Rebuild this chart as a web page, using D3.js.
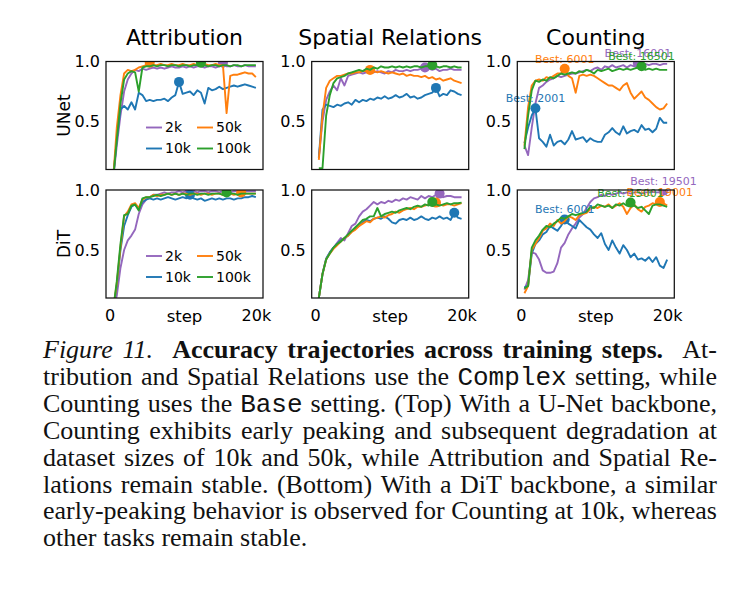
<!DOCTYPE html>
<html>
<head>
<meta charset="utf-8">
<script src="https://cdn.jsdelivr.net/npm/d3@7"></script>
<style>
  body { margin: 0; background: #fff; }
  svg { display: block; }
</style>
</head>
<body>
<div id="chart"></div>
<script>
// Evaluation steps (one checkpoint every 500 steps)
var steps = d3.range(40).map(i => 501 + 500 * i);

var seriesNames = ["2k", "10k", "50k", "100k"];
var seriesColors = ["#9467bd", "#1f77b4", "#ff7f0e", "#2ca02c"];
var taskNames = ["Attribution", "Spatial Relations", "Counting"];
var backboneNames = ["UNet", "DiT"];
var yTicks = [0.5, 1.0];
var xTicks = [0, 20000];
var xTickLabels = ["0", "20k"];

// ---- UNet ----
var attrUnet2k = [0.02,0.30,0.55,0.75,0.85,0.90,0.93,0.92,0.94,0.93, 0.94,0.95,0.94,0.95,0.94,0.95,0.96,0.95,0.95,0.96, 0.95,0.96,0.95,0.96,0.96,0.95,0.96,0.96,0.95,0.96, 0.99,0.96,0.96,0.97,0.96,0.96,0.97,0.96,0.96,0.96];
var attrUnet10k = [0.03,0.35,0.60,0.63,0.60,0.66,0.60,0.74,0.72,0.67, 0.68,0.67,0.68,0.68,0.69,0.67,0.70,0.72,0.83,0.73, 0.74,0.75,0.72,0.76,0.74,0.65,0.78,0.76,0.77,0.79, 0.77,0.78,0.79,0.80,0.79,0.80,0.81,0.80,0.79,0.78];
var attrUnet50k = [0.02,0.45,0.72,0.90,0.93,0.92,0.93,0.95,0.96,0.97, 0.99,0.97,0.97,0.98,0.97,0.97,0.98,0.97,0.97,0.98, 0.97,0.97,0.98,0.97,0.97,0.98,0.97,0.97,0.98,0.97, 0.97,0.57,0.88,0.89,0.89,0.90,0.91,0.90,0.90,0.87];
var attrUnet100k = [0.02,0.35,0.65,0.85,0.90,0.92,0.91,0.75,0.95,0.96, 0.96,0.97,0.96,0.97,0.97,0.96,0.97,0.97,0.96,0.97, 0.97,0.96,0.97,0.97,0.99,0.97,0.96,0.97,0.97,0.96, 0.97,0.97,0.96,0.97,0.97,0.96,0.97,0.97,0.97,0.97];

var spatUnet2k = [0.20,0.50,0.68,0.75,0.80,0.76,0.86,0.80,0.88,0.89, 0.90,0.91,0.90,0.91,0.92,0.91,0.92,0.91,0.90,0.92, 0.91,0.93,0.92,0.92,0.93,0.92,0.93,0.93,0.94,0.95, 0.94,0.93,0.94,0.92,0.93,0.93,0.94,0.93,0.93,0.93];
var spatUnet10k = [0.20,0.60,0.64,0.63,0.62,0.64,0.63,0.65,0.66,0.64, 0.68,0.66,0.68,0.67,0.69,0.68,0.70,0.69,0.71,0.69, 0.70,0.72,0.70,0.71,0.73,0.70,0.71,0.69,0.70,0.72, 0.73,0.74,0.78,0.71,0.73,0.72,0.76,0.75,0.73,0.72];
var spatUnet50k = [0.18,0.55,0.78,0.84,0.86,0.88,0.88,0.89,0.90,0.90, 0.91,0.91,0.92,0.92,0.93,0.92,0.91,0.92,0.91,0.90, 0.91,0.90,0.89,0.90,0.88,0.89,0.88,0.88,0.87,0.88, 0.86,0.87,0.85,0.86,0.84,0.85,0.86,0.84,0.83,0.82];
var spatUnet100k = [0.11,0.11,0.55,0.72,0.82,0.86,0.87,0.88,0.90,0.91, 0.92,0.93,0.92,0.94,0.93,0.95,0.94,0.96,0.95,0.95, 0.96,0.95,0.96,0.95,0.96,0.95,0.96,0.96,0.95,0.96, 0.96,0.97,0.96,0.95,0.96,0.96,0.95,0.96,0.95,0.95];

var countUnet2k = [0.30,0.22,0.45,0.65,0.78,0.80,0.83,0.85,0.86,0.88, 0.87,0.88,0.89,0.90,0.90,0.91,0.92,0.93,0.92,0.94, 0.95,0.93,0.96,0.95,0.97,0.95,0.96,0.97,0.95,0.97, 0.96,0.985,0.97,0.98,0.97,0.98,0.98,0.97,0.98,0.98];
var countUnet10k = [0.32,0.45,0.55,0.61,0.36,0.33,0.29,0.39,0.30,0.33, 0.34,0.31,0.35,0.42,0.35,0.36,0.37,0.33,0.36,0.34, 0.33,0.33,0.39,0.41,0.445,0.41,0.39,0.46,0.40,0.42, 0.43,0.41,0.47,0.43,0.44,0.41,0.44,0.53,0.49,0.49];
var countUnet50k = [0.30,0.62,0.80,0.84,0.85,0.84,0.87,0.86,0.88,0.90, 0.90,0.94,0.88,0.86,0.74,0.88,0.89,0.88,0.89,0.88, 0.86,0.84,0.82,0.80,0.80,0.78,0.76,0.80,0.82,0.74, 0.69,0.72,0.75,0.70,0.68,0.65,0.62,0.60,0.61,0.65];
var countUnet100k = [0.27,0.55,0.76,0.84,0.83,0.85,0.84,0.87,0.86,0.88, 0.90,0.89,0.90,0.91,0.90,0.92,0.91,0.93,0.92,0.90, 0.93,0.92,0.93,0.94,0.92,0.93,0.94,0.93,0.94,0.93, 0.94,0.95,0.96,0.93,0.94,0.93,0.94,0.93,0.93,0.93];

// ---- DiT ----
var attrDit2k = [0.00,0.12,0.35,0.50,0.58,0.62,0.67,0.80,0.88,0.92, 0.94,0.96,0.96,0.97,0.98,0.97,0.98,0.98,0.99,0.98, 0.99,1.00,0.99,0.98,0.99,0.99,0.98,0.99,0.99,0.98, 0.99,0.99,0.98,0.99,0.99,0.98,0.99,0.99,0.99,0.99];
var attrDit10k = [0.00,0.20,0.50,0.70,0.79,0.86,0.88,0.84,0.90,0.92, 0.93,0.92,0.93,0.92,0.93,0.94,0.93,0.92,0.93,0.94, 0.93,0.96,0.93,0.92,0.93,0.91,0.92,0.93,0.92,0.93, 0.92,0.93,0.93,0.92,0.93,0.93,0.94,0.94,0.95,0.94];
var attrDit50k = [0.00,0.22,0.52,0.78,0.82,0.88,0.89,0.85,0.92,0.94, 0.94,0.96,0.95,0.96,0.96,0.97,0.96,0.97,0.96,0.97, 0.97,0.96,0.97,0.97,0.96,0.97,0.97,0.96,0.97,0.97, 0.96,0.97,0.97,0.96,0.97,0.98,0.97,0.97,0.97,0.97];
var attrDit100k = [0.00,0.24,0.55,0.79,0.80,0.87,0.88,0.83,0.93,0.94, 0.94,0.95,0.96,0.95,0.96,0.97,0.96,0.97,0.96,0.97, 0.96,0.97,0.97,0.96,0.97,0.97,0.96,0.97,0.97,0.97, 0.96,0.98,0.97,0.97,0.96,0.97,0.97,0.97,0.97,0.97];

var spatDit2k = [0.10,0.30,0.42,0.48,0.52,0.56,0.60,0.58,0.64,0.70, 0.72,0.78,0.82,0.84,0.87,0.90,0.88,0.90,0.89,0.91, 0.90,0.92,0.91,0.93,0.92,0.94,0.93,0.92,0.95,0.93, 0.95,0.94,0.96,0.97,0.94,0.95,0.95,0.94,0.94,0.94];
var spatDit10k = [0.10,0.30,0.43,0.48,0.52,0.55,0.58,0.60,0.62,0.66, 0.68,0.70,0.73,0.75,0.74,0.76,0.77,0.76,0.78,0.76, 0.73,0.72,0.75,0.76,0.75,0.77,0.75,0.76,0.78,0.76, 0.75,0.77,0.76,0.78,0.76,0.77,0.75,0.81,0.77,0.76];
var spatDit50k = [0.10,0.30,0.42,0.47,0.51,0.54,0.57,0.60,0.62,0.65, 0.67,0.70,0.72,0.74,0.73,0.76,0.77,0.78,0.77,0.79, 0.80,0.82,0.81,0.83,0.84,0.85,0.84,0.86,0.86,0.87, 0.88,0.87,0.895,0.88,0.87,0.88,0.88,0.87,0.88,0.89];
var spatDit100k = [0.10,0.30,0.42,0.47,0.52,0.55,0.57,0.60,0.63,0.66, 0.69,0.72,0.75,0.76,0.78,0.78,0.85,0.78,0.80,0.81, 0.82,0.81,0.83,0.84,0.85,0.84,0.86,0.87,0.86,0.88, 0.87,0.90,0.88,0.87,0.88,0.89,0.88,0.89,0.89,0.895];

var countDit2k = [0.17,0.25,0.48,0.47,0.42,0.33,0.31,0.31,0.32,0.39, 0.52,0.56,0.63,0.68,0.72,0.77,0.80,0.85,0.90,0.93, 0.94,0.96,0.95,0.97,0.96,0.97,0.98,0.97,0.98,0.97, 0.98,0.98,0.97,0.98,0.98,0.985,0.98,0.98,0.995,0.98];
var countDit10k = [0.19,0.20,0.47,0.55,0.58,0.63,0.65,0.70,0.68,0.66, 0.70,0.755,0.72,0.70,0.68,0.75,0.72,0.69,0.67,0.63, 0.60,0.64,0.55,0.50,0.58,0.52,0.47,0.54,0.50,0.44, 0.47,0.42,0.43,0.41,0.44,0.40,0.44,0.37,0.35,0.42];
var countDit50k = [0.14,0.20,0.50,0.55,0.60,0.66,0.68,0.72,0.70,0.75, 0.72,0.74,0.78,0.77,0.75,0.79,0.80,0.81,0.84,0.86, 0.85,0.87,0.86,0.88,0.85,0.87,0.89,0.86,0.80,0.85, 0.88,0.84,0.82,0.86,0.87,0.89,0.88,0.90,0.89,0.87];
var countDit100k = [0.18,0.20,0.52,0.58,0.62,0.67,0.70,0.69,0.72,0.74, 0.77,0.76,0.78,0.80,0.79,0.80,0.81,0.82,0.86,0.85, 0.88,0.87,0.86,0.87,0.85,0.88,0.87,0.89,0.87,0.895, 0.87,0.85,0.86,0.83,0.80,0.87,0.88,0.88,0.87,0.86];

var panelData = [
    [[attrUnet2k, attrUnet10k, attrUnet50k, attrUnet100k],
     [spatUnet2k, spatUnet10k, spatUnet50k, spatUnet100k],
     [countUnet2k, countUnet10k, countUnet50k, countUnet100k]],
    [[attrDit2k, attrDit10k, attrDit50k, attrDit100k],
     [spatDit2k, spatDit10k, spatDit50k, spatDit100k],
     [countDit2k, countDit10k, countDit50k, countDit100k]]
];

// Caption, line by line (it = italic, bf = bold, tt = monospace, rm = roman)
var captionLines = [
    [["it", "Figure 11."], ["bf", "Accuracy trajectories across training steps."], ["rm", "At-"]],
    [["rm", "tribution and Spatial Relations use the"], ["tt", "Complex"], ["rm", "setting, while"]],
    [["rm", "Counting uses the"], ["tt", "Base"], ["rm", "setting. (Top) With a U-Net backbone,"]],
    [["rm", "Counting exhibits early peaking and subsequent degradation at"]],
    [["rm", "dataset sizes of 10k and 50k, while Attribution and Spatial Re-"]],
    [["rm", "lations remain stable. (Bottom) With a DiT backbone, a similar"]],
    [["rm", "early-peaking behavior is observed for Counting at 10k, whereas"]],
    [["rm", "other tasks remain stable."]]
];

// Layout
var svgWidth = 739;
var svgHeight = 589;
var panelLeft = [106, 311.7, 517.3];
var panelTop = [61.5, 190];
var panelWidth = 157;
var panelHeight = 108;
var sans = "DejaVu Sans";
var tickSize = "16px";

var svg = d3.select("#chart")
    .append("svg")
    .attr("width", svgWidth)
    .attr("height", svgHeight);

// x extent padded by 5% like matplotlib's default margins
var xPad = (d3.max(steps) - d3.min(steps)) * 0.05;
var xScale = d3.scaleLinear()
    .domain([d3.min(steps) - xPad, d3.max(steps) + xPad])
    .range([0, panelWidth]);

var yScale = d3.scaleLinear()
    .domain([0.1, 1.0])
    .range([panelHeight, 0]);

var line = d3.line()
    .x((d, i) => xScale(steps[i]))
    .y(d => yScale(d));

panelData.forEach((rowData, r) => {
    rowData.forEach((series, c) => {
        var g = svg.append("g")
            .attr("transform", `translate(${panelLeft[c]}, ${panelTop[r]})`);

        var clipId = `clip-${r}-${c}`;
        g.append("clipPath")
            .attr("id", clipId)
            .append("rect")
            .attr("width", panelWidth)
            .attr("height", panelHeight);

        var plot = g.append("g").attr("clip-path", `url(#${clipId})`);
        var labels = g.append("g");

        series.forEach((values, s) => {
            plot.append("path")
                .attr("d", line(values))
                .attr("fill", "none")
                .attr("stroke", seriesColors[s])
                .attr("stroke-width", 1.9)
                .attr("stroke-linejoin", "round");

            // mark the best checkpoint
            var best = d3.maxIndex(values);
            plot.append("circle")
                .attr("cx", xScale(steps[best]))
                .attr("cy", yScale(values[best]))
                .attr("r", 5)
                .attr("fill", seriesColors[s]);

            if (c === 2) {
                labels.append("text")
                    .attr("x", xScale(steps[best]))
                    .attr("y", yScale(values[best]) - 6)
                    .attr("text-anchor", "middle")
                    .style("font-family", sans)
                    .style("font-size", "11px")
                    .style("fill", seriesColors[s])
                    .text("Best: " + steps[best]);
            }
        });

        // frame
        g.append("rect")
            .attr("width", panelWidth)
            .attr("height", panelHeight)
            .attr("fill", "none")
            .attr("stroke", "#111")
            .attr("stroke-width", 1.25);

        // y axis
        var leftAxis = d3.axisLeft(yScale)
            .tickValues(yTicks)
            .tickFormat(d3.format(".1f"))
            .tickSize(0)
            .tickPadding(6);
        var ya = g.append("g").call(leftAxis);
        ya.select(".domain").remove();
        ya.selectAll("text")
            .style("font-family", sans)
            .style("font-size", tickSize)
            .style("fill", "#000");

        // x axis on the bottom row only
        if (r === 1) {
            var bottomAxis = d3.axisBottom(xScale)
                .tickValues(xTicks)
                .tickFormat((d, i) => xTickLabels[i])
                .tickSize(0)
                .tickPadding(12);
            var xa = g.append("g")
                .attr("transform", `translate(0, ${panelHeight})`)
                .call(bottomAxis);
            xa.select(".domain").remove();
            xa.selectAll("text")
                .style("font-family", sans)
                .style("font-size", tickSize)
                .style("fill", "#000");

            g.append("text")
                .attr("x", panelWidth / 2)
                .attr("y", panelHeight + 23.5)
                .attr("text-anchor", "middle")
                .style("font-family", sans)
                .style("font-size", "16.5px")
                .text("step");
        }

        // task titles on the top row
        if (r === 0) {
            g.append("text")
                .attr("x", panelWidth / 2)
                .attr("y", -16.5)
                .attr("text-anchor", "middle")
                .style("font-family", sans)
                .style("font-size", "22px")
                .text(taskNames[c]);
        }

        // backbone labels on the left column
        if (c === 0) {
            g.append("text")
                .attr("transform", `translate(-36, ${panelHeight / 2}) rotate(-90)`)
                .attr("text-anchor", "middle")
                .style("font-family", sans)
                .style("font-size", "17px")
                .text(backboneNames[r]);

            // legend (2 columns)
            seriesNames.forEach((name, s) => {
                var lx = s < 2 ? 40 : 91;
                var ly = panelHeight - (s % 2 === 0 ? 42 : 21);
                g.append("line")
                    .attr("x1", lx).attr("x2", lx + 16)
                    .attr("y1", ly).attr("y2", ly)
                    .attr("stroke", seriesColors[s])
                    .attr("stroke-width", 1.9);
                g.append("text")
                    .attr("x", lx + 19)
                    .attr("y", ly)
                    .attr("dy", "0.35em")
                    .style("font-family", sans)
                    .style("font-size", "14px")
                    .text(name);
            });
        }
    });
});

// Caption: justified lines of serif text
var capLeft = 43;
var capRight = 717;
var capTop = 358;
var capLeading = 26.9;
var capSize = 26;

var fontFor = {
    it: {family: "Liberation Serif", style: "italic", weight: "normal"},
    bf: {family: "Liberation Serif", style: "normal", weight: "bold"},
    tt: {family: "Liberation Mono", style: "normal", weight: "normal"},
    rm: {family: "Liberation Serif", style: "normal", weight: "normal"}
};

var caption = svg.append("g");

captionLines.forEach((segments, li) => {
    var words = [];
    segments.forEach((seg, si) => {
        seg[1].split(" ").forEach((w, wi) => {
            // wider gap between the figure label, the bold title and the text
            words.push({text: w, kind: seg[0], gap: (wi === 0 && si > 0 && li === 0) ? 2 : 1});
        });
    });

    var y = capTop + li * capLeading;
    var nodes = words.map(w => {
        var f = fontFor[w.kind];
        return caption.append("text")
            .attr("y", y)
            .style("font-family", f.family)
            .style("font-style", f.style)
            .style("font-weight", f.weight)
            .style("font-size", capSize + "px")
            .style("fill", "#111")
            .text(w.text);
    });
    var widths = nodes.map(n => n.node().getComputedTextLength());
    var totalGap = d3.sum(words.slice(1), w => w.gap);
    var last = li === captionLines.length - 1;
    var unit = last ? capSize * 0.25 : (capRight - capLeft - d3.sum(widths)) / totalGap;

    var x = capLeft;
    nodes.forEach((n, i) => {
        if (i > 0) x += unit * words[i].gap;
        n.attr("x", x);
        x += widths[i];
    });
});
</script>
</body>
</html>
